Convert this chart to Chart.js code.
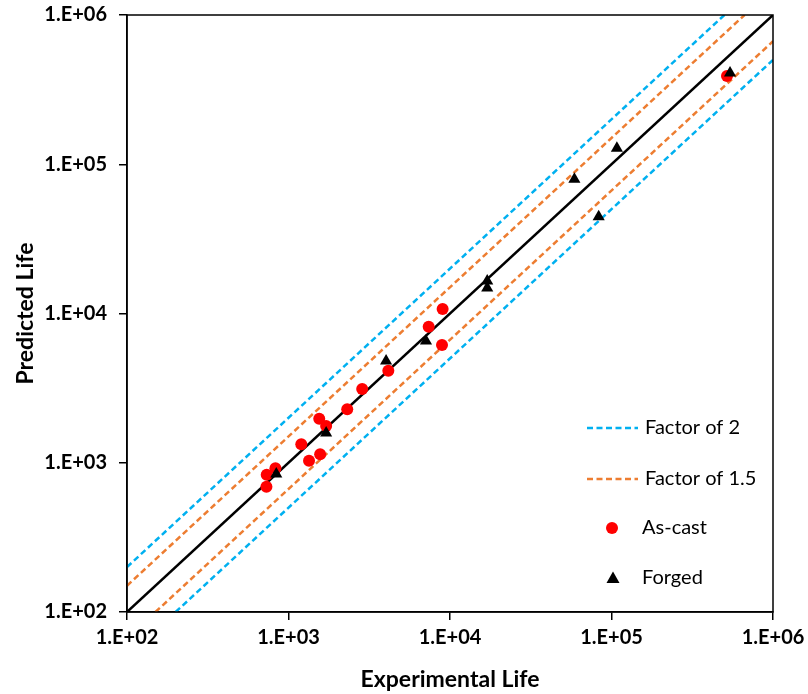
<!DOCTYPE html>
<html>
<head>
<meta charset="utf-8">
<script src="https://cdn.jsdelivr.net/npm/chart.js@4"></script>
<style>
html,body{margin:0;padding:0;background:#fff;}
#wrap{width:808px;height:694px;position:relative;}
</style>
</head>
<body>
<div id="wrap"><canvas id="c" width="808" height="694"></canvas></div>
<script>
// Tick labels (log axes, decades)
const tickValues = [1e2, 1e3, 1e4, 1e5, 1e6];
const tickLabels = ["1.E+02", "1.E+03", "1.E+04", "1.E+05", "1.E+06"];

// As-cast: experimental vs predicted life
const asCastExp  = [730, 733, 830, 1200, 1340, 1570, 1550, 1710, 2310, 2860, 4150, 7380, 8920, 9000, 519000];
const asCastPred = [690, 830, 920, 1330, 1030, 1140, 1970, 1760, 2280, 3120, 4140, 8160, 6150, 10700, 390000];

// Forged: experimental vs predicted life
const forgedExp  = [840, 1710, 4020, 7100, 17000, 17000, 58900, 108000, 83300, 542000];
const forgedPred = [840, 1580, 4800, 6550, 16500, 14800, 79300, 128000, 44500, 409000];

// Reference lines (end points)
const unityX = [100, 1000000];
const unityY = [100, 1000000];
const f2UpperX = [100, 500000];
const f2UpperY = [200, 1000000];
const f2LowerX = [200, 1000000];
const f2LowerY = [100, 500000];
const f15UpperX = [100, 666667];
const f15UpperY = [150, 1000000];
const f15LowerX = [150, 1000000];
const f15LowerY = [100, 666667];

const legendLabels = ["Factor of 2", "Factor of 1.5", "As-cast", "Forged"];

const BLUE = "#00B0F0", ORANGE = "#ED7D31", RED = "#FF0000";
const FONT = '"Lato", "Open Sans", sans-serif';

function pts(xs, ys){ return xs.map((x,i)=>({x:x, y:ys[i]})); }

function lineDs(xs, ys, color, dash){
  return {type:'scatter', data:pts(xs,ys), showLine:true, borderColor:color, borderWidth:2.5,
    borderDash:dash, pointRadius:0, pointHoverRadius:0, fill:false, order:3};
}

const frame = {
  id:'frame',
  afterDatasetsDraw(chart){
    const {ctx, chartArea:a} = chart;
    ctx.save();
    ctx.strokeStyle = '#000';
    ctx.lineWidth = 1.5;
    ctx.strokeRect(a.left, a.top, a.right-a.left, a.bottom-a.top);
    ctx.restore();
  }
};

const legendPlugin = {
  id:'customLegend',
  afterDraw(chart){
    const ctx = chart.ctx;
    ctx.save();
    ctx.font = '20px ' + FONT;
    ctx.fillStyle = '#000';
    ctx.textBaseline = 'middle';
    ctx.textAlign = 'left';
    const rows = [428, 479, 528, 578];
    const colors = [BLUE, ORANGE];
    for (let i=0;i<2;i++){
      ctx.strokeStyle = colors[i];
      ctx.lineWidth = 2.5;
      ctx.setLineDash([6,3.5]);
      ctx.beginPath();
      ctx.moveTo(587, rows[i]);
      ctx.lineTo(638, rows[i]);
      ctx.stroke();
    }
    ctx.setLineDash([]);
    ctx.fillText(legendLabels[0], 645, rows[0]);
    ctx.fillText(legendLabels[1], 645, rows[1]);
    ctx.fillStyle = RED;
    ctx.beginPath(); ctx.arc(612, rows[2], 6, 0, Math.PI*2); ctx.fill();
    ctx.fillStyle = '#000';
    ctx.beginPath();
    ctx.moveTo(613, rows[3]-6.5); ctx.lineTo(619.5, rows[3]+5); ctx.lineTo(606.5, rows[3]+5); ctx.closePath(); ctx.fill();
    ctx.fillText(legendLabels[2], 642, rows[2]);
    ctx.fillText(legendLabels[3], 642, rows[3]);
    ctx.restore();
  }
};

function axisCommon(title){
  return {
    type:'logarithmic',
    min:100, max:1000000,
    afterBuildTicks(scale){ scale.ticks = tickValues.map(v=>({value:v})); },
    ticks:{
      color:'#000',
      font:{family:FONT, size:20, weight:'bold'},
      callback(v){ const i = tickValues.indexOf(v); return i>=0 ? tickLabels[i] : ''; },
      autoSkip:false, maxRotation:0, minRotation:0
    },
    grid:{display:true, drawOnChartArea:false, drawTicks:true, tickLength:8, color:'#000', lineWidth:1.5},
    border:{display:true, color:'#000', width:1.5},
    title:{display:true, text:title, color:'#000',
      font:{family:FONT, size:23, weight:'bold'}}
  };
}

const xAxis = axisCommon('Experimental Life');
xAxis.ticks.padding = 6;
xAxis.title.padding = {top:0, bottom:1};
xAxis.afterFit = function(s){ s.height = 82; s.paddingLeft = 0; s.paddingRight = 0; };
const yAxis = axisCommon('Predicted Life');
yAxis.ticks.padding = 12;
yAxis.title.padding = {top:12, bottom:0};
yAxis.afterFit = function(s){ s.width = 127; s.paddingTop = 0; s.paddingBottom = 0; };

new Chart(document.getElementById('c'), {
  type:'scatter',
  data:{
    datasets:[
      {label:'As-cast', data:pts(asCastExp, asCastPred), backgroundColor:RED, borderColor:RED,
        pointStyle:'circle', pointRadius:6, pointBorderWidth:0, order:1},
      {label:'Forged', data:pts(forgedExp, forgedPred), backgroundColor:'#000', borderColor:'#000',
        pointStyle:'triangle', pointRadius:7, pointBorderWidth:0, order:0},
      lineDs(unityX, unityY, '#000', []),
      lineDs(f2UpperX, f2UpperY, BLUE, [6,3.5]),
      lineDs(f2LowerX, f2LowerY, BLUE, [6,3.5]),
      lineDs(f15UpperX, f15UpperY, ORANGE, [6,3.5]),
      lineDs(f15LowerX, f15LowerY, ORANGE, [6,3.5])
    ]
  },
  options:{
    responsive:false,
    animation:false,
    layout:{padding:{top:15, right:35, left:0, bottom:0}},
    plugins:{legend:{display:false}, tooltip:{enabled:false}},
    scales:{x:xAxis, y:yAxis}
  },
  plugins:[frame, legendPlugin]
});
</script>
</body>
</html>
